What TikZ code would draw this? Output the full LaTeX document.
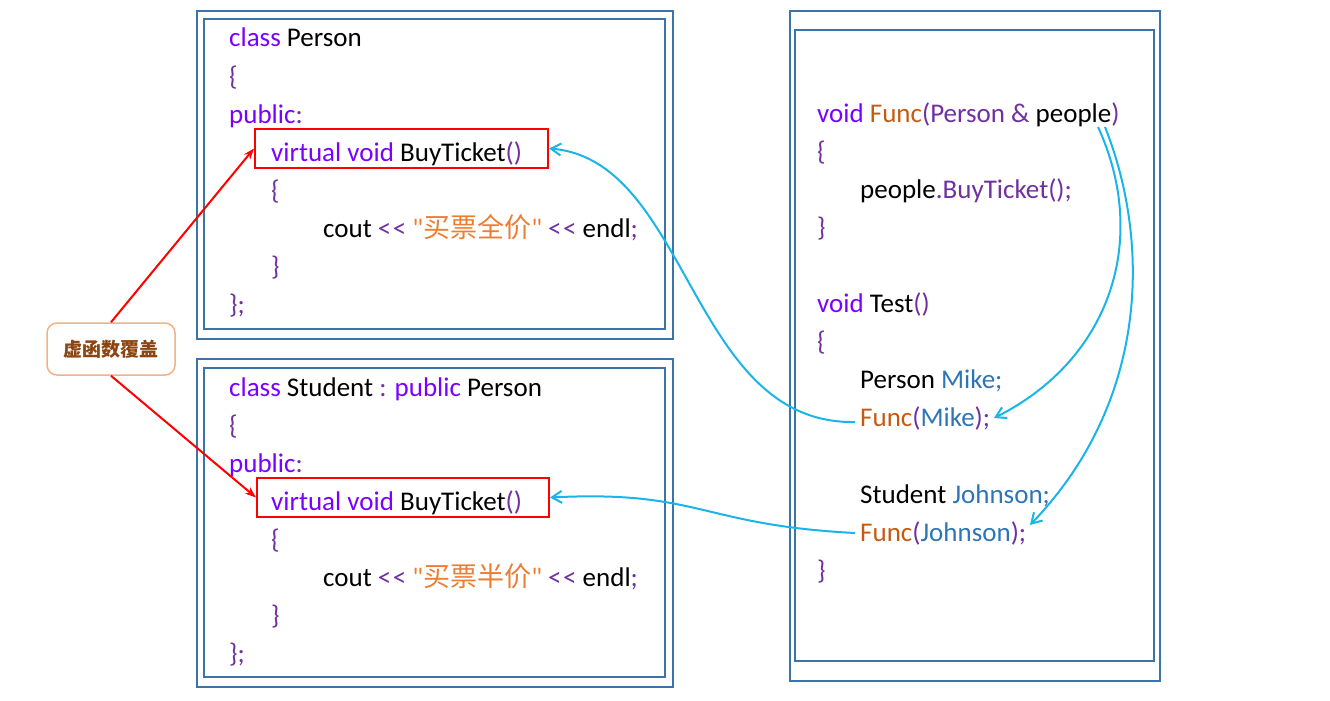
\documentclass[tikz,border=0pt]{standalone}
\usepackage{fontspec}
\setmainfont{Carlito}
\newfontfamily\plain{Carlito}
\newfontfamily\cjk{Noto Sans CJK SC}
\usetikzlibrary{arrows.meta}
\definecolor{kw}{HTML}{7A00FF}
\definecolor{pu}{HTML}{7030A0}
\definecolor{fn}{HTML}{C55A11}
\definecolor{id}{HTML}{2E75B6}
\definecolor{st}{HTML}{ED7D31}
\definecolor{fr}{HTML}{3A74A8}
\definecolor{ar}{HTML}{1AB4EA}
\definecolor{lb}{HTML}{F4B183}
\definecolor{lt}{HTML}{8B4513}
\newcommand{\K}[1]{\textcolor{kw}{#1}}
\newcommand{\Pu}[1]{\textcolor{pu}{#1}}
\newcommand{\F}[1]{\textcolor{fn}{#1}}
\newcommand{\I}[1]{\textcolor{id}{#1}}
\newcommand{\Ss}[1]{\textcolor{st}{#1}}
\newcommand{\LL}{\Pu{<\kern1.5pt<}}
\newcommand{\Q}{{\plain "}}
\begin{document}
\begin{tikzpicture}[x=1pt,y=-1pt,
 code/.style={anchor=base west,inner sep=0,font=\fontsize{27}{27}\selectfont},
 frame/.style={draw=fr,line width=2pt},
 redbox/.style={draw=red,line width=2pt},
 blue/.style={draw=ar,line width=2pt,-{Straight Barb[length=10pt,width=12pt]}},
 redar/.style={draw=red,line width=2pt,-{Stealth[length=11pt,width=8pt]}}]
\useasboundingbox (0,0) rectangle (1330,701);
% frames
\draw[frame] (197,11) rectangle (673,339);
\draw[frame] (204,19) rectangle (665,329);
\draw[frame] (197,359) rectangle (673,687);
\draw[frame] (204,368) rectangle (665,677);
\draw[frame] (790,11) rectangle (1160,681);
\draw[frame] (795,30) rectangle (1154,661);
% red boxes
\node[redbox,minimum width=293pt,minimum height=39pt,inner sep=0] (r1) at (401.5,148.5) {};
\node[redbox,minimum width=292pt,minimum height=39pt,inner sep=0] (r2) at (403,497.5) {};
% top class
\node[code] (a1) at (229,47) {\K{class} Person};
\node[code] (a2) at (229,85) {\Pu{\{}};
\node[code] (a3) at (229,123) {\K{public}\Pu{:}};
\node[code] (a4) at (271,161) {\K{virtual void} BuyTicket\Pu{()}};
\node[code] (a5) at (271,199) {\Pu{\{}};
\node[code] (a6) at (323,237) {cout \LL{} \Ss{\Q{\cjk 买票全价}\Q} \LL{} endl\Pu{;}};
\node[code] (a7) at (271,275) {\Pu{\}}};
\node[code] (a8) at (229,313) {\Pu{\};}};
% bottom class
\node[code] (b1) at (229,396) {\K{class} Student \Pu{:} \K{public} Person};
\node[code] (b2) at (229,434) {\Pu{\{}};
\node[code] (b3) at (229,472) {\K{public}\Pu{:}};
\node[code] (b4) at (271,510) {\K{virtual void} BuyTicket\Pu{()}};
\node[code] (b5) at (271,548) {\Pu{\{}};
\node[code] (b6) at (323,586) {cout \LL{} \Ss{\Q{\cjk 买票半价}\Q} \LL{} endl\Pu{;}};
\node[code] (b7) at (271,624) {\Pu{\}}};
\node[code] (b8) at (229,662) {\Pu{\};}};
% right
\node[code] (c1) at (817,122) {\K{void} \F{Func}\Pu{(Person \& }people\Pu{)}};
\node[code] (c2) at (817,160) {\Pu{\{}};
\node[code] (c3) at (860,198) {people\Pu{.BuyTicket();}};
\node[code] (c4) at (817,236) {\Pu{\}}};
\node[code] (c5) at (817,312) {\K{void} Test\Pu{()}};
\node[code] (c6) at (817,350) {\Pu{\{}};
\node[code] (c7) at (860,388) {Person \I{Mike;}};
\node[code] (c8) at (860,426) {\F{Func}\Pu{(}\I{Mike}\Pu{);}};
\node[code] (c9) at (860,503) {Student \I{Johnson;}};
\node[code] (c10) at (860,541) {\F{Func}\Pu{(}\I{Johnson}\Pu{);}};
\node[code] (c11) at (817,579) {\Pu{\}}};
% label
\node[draw=lb,line width=1.5pt,rounded corners=10pt,fill=white,minimum width=128pt,minimum height=52pt,font=\cjk\bfseries\fontsize{19}{19}\selectfont,text=lt] (lab) at (111,349) {虚函数覆盖};
\draw[redar] (lab.north) -- (r1.west);
\draw[redar] (lab.south) -- (r2.west);
% blue arrows
\coordinate (m) at (855,422);
\coordinate (j) at (855,533);
\coordinate (p1) at (1098,127);
\coordinate (p2) at (1105,127);
\draw[blue] (m) .. controls (690,425) and (690,160) .. (r1.east);
\draw[blue] (j) .. controls (700,525) and (700,490) .. (r2.east);
\draw[blue] (p1) .. controls (1150,240) and (1110,360) .. (994,418);
\draw[blue] (p2) .. controls (1150,240) and (1150,400) .. (1030,525);
\end{tikzpicture}
\end{document}
